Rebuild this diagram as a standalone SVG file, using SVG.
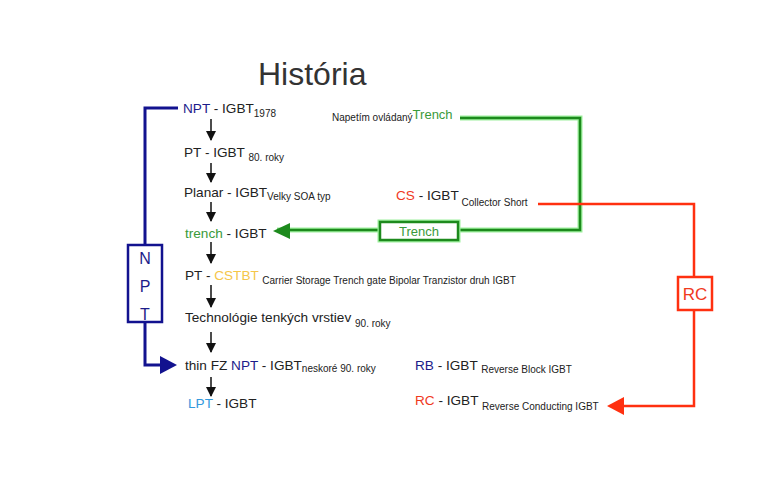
<svg xmlns="http://www.w3.org/2000/svg" width="772" height="490" viewBox="0 0 772 490">
<defs>
<style>
text{font-family:"Liberation Sans",Arial,sans-serif;fill:#222;}
.m{font-size:13.6px;}
.s{font-size:10px;}
.blue{fill:#1c1c8a;}
.green{fill:#3a9a3a;}
.red{fill:#f0391e;}
.yel{fill:#f5c64a;}
.lblue{fill:#3399dd;}
.blk{stroke:#111;stroke-width:1.5;fill:none;}
</style>
<marker id="ab" viewBox="0 0 10 10" refX="9" refY="5" markerWidth="10" markerHeight="10" markerUnits="userSpaceOnUse" orient="auto"><path d="M0,0L10,5L0,10z" fill="#111"/></marker>
</defs>
<rect width="772" height="490" fill="#fff"/>
<text x="258" y="85" style="font-size:32px;fill:#333">História</text>

<g id="connectors">
<g id="down-arrows">
<line class="blk" x1="211" y1="119" x2="211" y2="140" marker-end="url(#ab)"/>
<line class="blk" x1="211" y1="163" x2="211" y2="182" marker-end="url(#ab)"/>
<line class="blk" x1="211" y1="202" x2="211" y2="221" marker-end="url(#ab)"/>
<line class="blk" x1="211" y1="242" x2="211" y2="263" marker-end="url(#ab)"/>
<line class="blk" x1="211" y1="285" x2="211" y2="307" marker-end="url(#ab)"/>
<line class="blk" x1="211" y1="332" x2="211" y2="352" marker-end="url(#ab)"/>
<line class="blk" x1="211" y1="377" x2="211" y2="396" marker-end="url(#ab)"/>
</g>
<g id="npt-conn">
<path d="M178,108H145V365H162" fill="none" stroke="#12128f" stroke-width="3"/>
<path d="M160,356L177,365L160,374z" fill="#12128f"/>
</g>
<g id="trench-conn">
<path d="M460,118H580V230H277" fill="none" stroke="#9ef09e" stroke-width="5"/>
<path d="M460,118H580V230H277" fill="none" stroke="#1d8a1d" stroke-width="2.5"/>
<path d="M290,223L273,231L290,239z" fill="#1d8a1d"/>
</g>
<g id="rc-conn">
<path d="M538,204H694V406H620" fill="none" stroke="#ff3010" stroke-width="2.5"/>
<path d="M624,397L607,406L624,415z" fill="#ff3010"/>
</g>
</g>

<g id="npt-box">
<rect x="128" y="245" width="34" height="77" fill="#fff" stroke="#12128f" stroke-width="2.5"/>
<text x="145" y="264" text-anchor="middle" style="font-size:16px" class="blue">N</text>
<text x="145" y="292" text-anchor="middle" style="font-size:16px" class="blue">P</text>
<text x="145" y="320" text-anchor="middle" style="font-size:16px" class="blue">T</text>
</g>
<g id="trench-box">
<rect x="380" y="222" width="78" height="18" fill="#fff" stroke="#9ef09e" stroke-width="5"/>
<rect x="380" y="222" width="78" height="18" fill="#fff" stroke="#1d8a1d" stroke-width="2.5"/>
<text x="419" y="236" text-anchor="middle" class="green" style="font-size:13px">Trench</text>
</g>
<g id="rc-box">
<rect x="678" y="277" width="34" height="33" fill="#fff" stroke="#ff3010" stroke-width="2.5"/>
<text x="695" y="300" text-anchor="middle" class="red" style="font-size:17px">RC</text>
</g>

<g id="n1"><text x="183" y="113" class="m"><tspan class="blue">NPT</tspan> - IGBT<tspan class="s" dy="4">1978</tspan></text></g>
<g id="n2"><text x="184" y="157" class="m">PT - IGBT <tspan class="s" dy="4">80. roky</tspan></text></g>
<g id="n3"><text x="184" y="197" class="m">Planar - IGBT<tspan class="s" dy="3">Velky SOA typ</tspan></text></g>
<g id="n4"><text x="185" y="238" class="m"><tspan class="green">trench</tspan> - IGBT</text></g>
<g id="n5"><text x="185" y="280" class="m">PT - <tspan class="yel">CSTBT</tspan> <tspan class="s" dy="4">Carrier Storage Trench gate Bipolar Tranzistor druh IGBT</tspan></text></g>
<g id="n6"><text x="185" y="322" class="m">Technológie tenkých vrstiev <tspan class="s" dy="5">90. roky</tspan></text></g>
<g id="n7"><text x="185" y="370" class="m">thin FZ <tspan class="blue">NPT</tspan> - IGBT<tspan class="s" dy="2">neskoré 90. roky</tspan></text></g>
<g id="n8"><text x="188" y="408" class="m"><tspan class="lblue">LPT</tspan> - IGBT</text></g>

<g id="n9"><text x="332" y="121" class="s">Napetím ovládaný<tspan class="green" style="font-size:13px" dy="-2">Trench</tspan></text></g>
<g id="n10"><text x="396" y="200" class="m"><tspan class="red">CS</tspan> - IGBT<tspan class="s" dy="6"> Collector Short</tspan></text></g>
<g id="n11"><text x="415" y="370" class="m"><tspan class="blue">RB</tspan> - IGBT <tspan class="s" dy="3">Reverse Block IGBT</tspan></text></g>
<g id="n12"><text x="415" y="405" class="m"><tspan class="red">RC</tspan> - IGBT <tspan class="s" dy="5">Reverse Conducting IGBT</tspan></text></g>
</svg>
